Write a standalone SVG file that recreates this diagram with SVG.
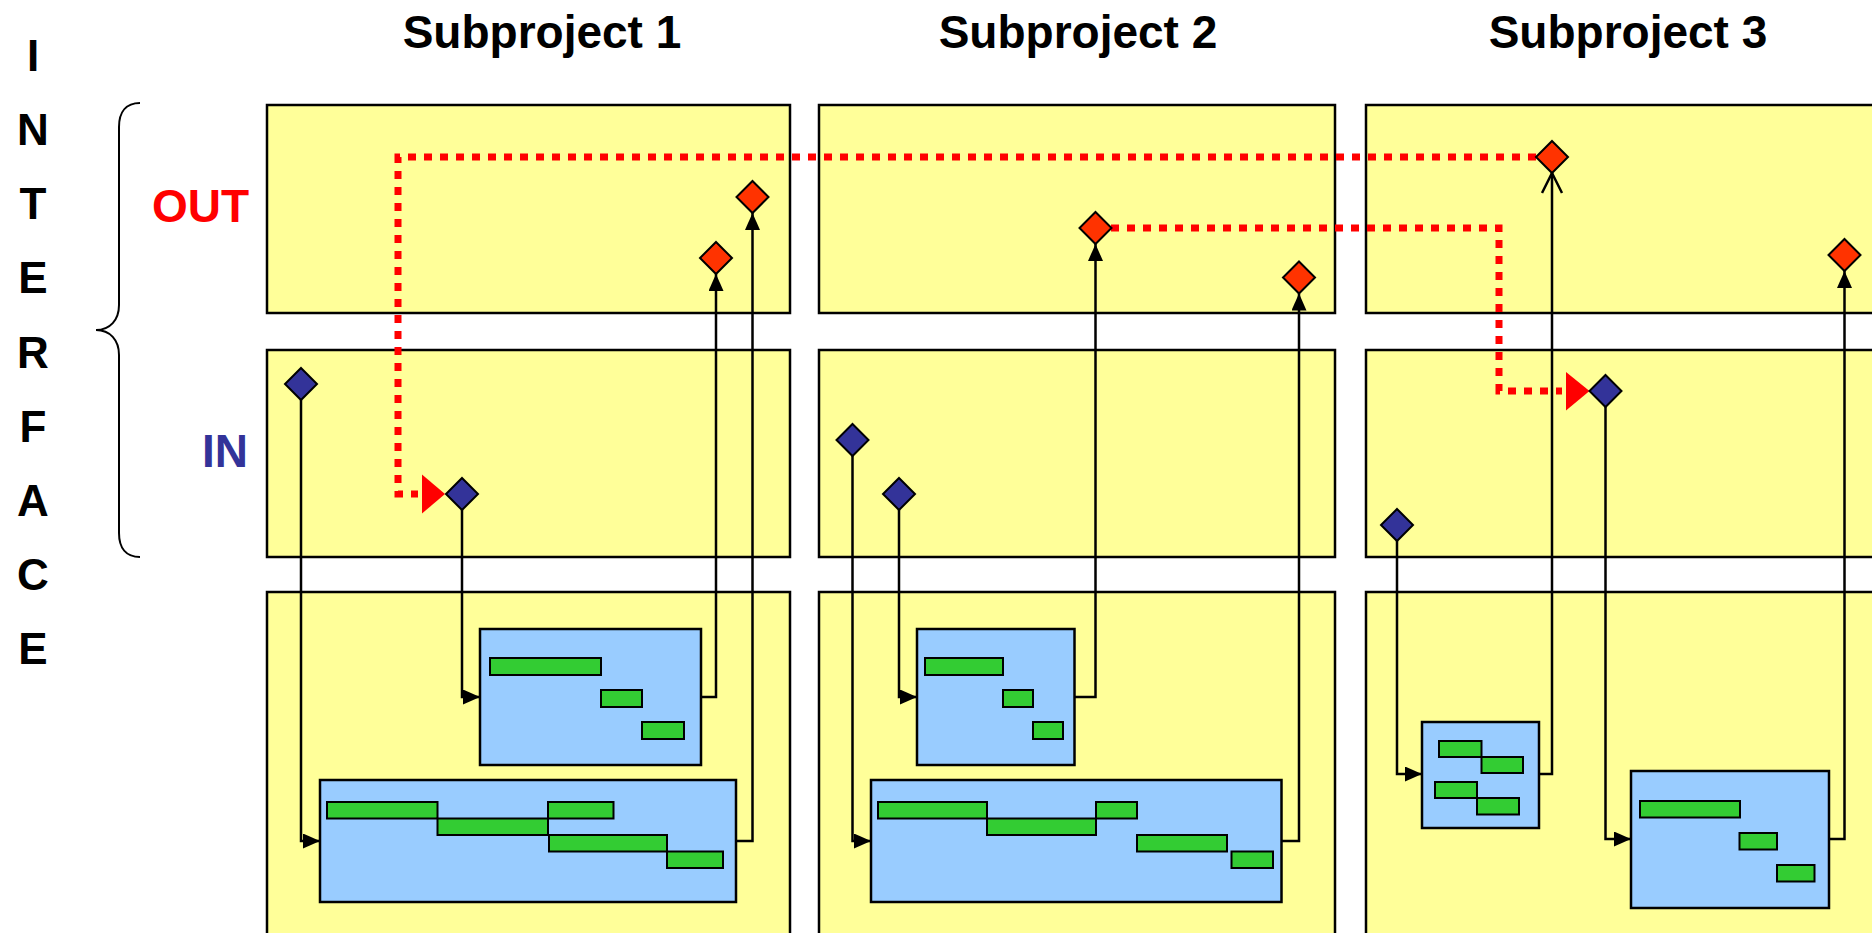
<svg xmlns="http://www.w3.org/2000/svg" width="1872" height="933" viewBox="0 0 1872 933">
<style>
.panel{fill:#FFFF99;stroke:#000;stroke-width:2.5}
.box{fill:#99CCFF;stroke:#000;stroke-width:2.5}
.bar{fill:#33CC33;stroke:#000;stroke-width:2}
.dout{fill:#FF3300;stroke:#000;stroke-width:2}
.din{fill:#333399;stroke:#000;stroke-width:2}
.conn{fill:none;stroke:#000;stroke-width:2.5}
.dot{fill:none;stroke:#FF0000;stroke-width:7;stroke-dasharray:8 8}
.tri{fill:#FF0000}
.lbl{font-family:"Liberation Sans",Arial,sans-serif;font-weight:bold;font-size:46px}
.title{text-anchor:middle;fill:#000}
.vert{text-anchor:middle;fill:#000;font-size:44px}
</style>
<defs>
<marker id="fa" markerUnits="userSpaceOnUse" markerWidth="18" markerHeight="16" refX="17" refY="7.5" orient="auto" viewBox="0 0 18 16">
<path d="M0,0 L17,7.5 L0,15 z" fill="#000"/>
</marker>
<marker id="oa" markerUnits="userSpaceOnUse" markerWidth="24" markerHeight="24" refX="21" refY="11" orient="auto" viewBox="0 0 24 24">
<path d="M1,1 L21,11 L1,21" fill="none" stroke="#000" stroke-width="2.5"/>
</marker>
<path id="dia" d="M0,-16 L16,0 L0,16 L-16,0 z"/>
</defs>
<rect width="1872" height="933" fill="#fff"/>

<g id="labels">
<text class="lbl title" x="542" y="48">Subproject 1</text>
<text class="lbl title" x="1078" y="48">Subproject 2</text>
<text class="lbl title" x="1628" y="48">Subproject 3</text>
<text class="lbl" x="249" y="222" text-anchor="end" fill="#FF0000">OUT</text>
<text class="lbl" x="248" y="467" text-anchor="end" fill="#333399">IN</text>
<text class="lbl vert" x="33" y="71">I</text>
<text class="lbl vert" x="33" y="145">N</text>
<text class="lbl vert" x="33" y="219">T</text>
<text class="lbl vert" x="33" y="293">E</text>
<text class="lbl vert" x="33" y="368">R</text>
<text class="lbl vert" x="33" y="442">F</text>
<text class="lbl vert" x="33" y="516">A</text>
<text class="lbl vert" x="33" y="590">C</text>
<text class="lbl vert" x="33" y="664">E</text>
<path id="brace" d="M140,103 C126,103 119,112 119,127 L119,305 C119,320 110,330 96,330 C110,330 119,340 119,355 L119,533 C119,548 126,557 140,557" fill="none" stroke="#000" stroke-width="2"/>
</g>

<g id="panels">
<rect id="p1-out" class="panel" x="267" y="105" width="523" height="208"/>
<rect id="p1-in" class="panel" x="267" y="350" width="523" height="207"/>
<rect id="p1-work" class="panel" x="267" y="592" width="523" height="350"/>
<rect id="p2-out" class="panel" x="819" y="105" width="516" height="208"/>
<rect id="p2-in" class="panel" x="819" y="350" width="516" height="207"/>
<rect id="p2-work" class="panel" x="819" y="592" width="516" height="350"/>
<rect id="p3-out" class="panel" x="1366" y="105" width="520" height="208"/>
<rect id="p3-in" class="panel" x="1366" y="350" width="520" height="207"/>
<rect id="p3-work" class="panel" x="1366" y="592" width="520" height="350"/>
</g>

<g id="box1a">
<rect class="box" x="480" y="629" width="221" height="136"/>
<rect class="bar" x="490" y="658" width="111" height="17"/>
<rect class="bar" x="601" y="690" width="41" height="17"/>
<rect class="bar" x="642" y="722" width="42" height="17"/>
</g>
<g id="box1b">
<rect class="box" x="320" y="780" width="416" height="122"/>
<rect class="bar" x="327" y="802" width="110.5" height="16.5"/>
<rect class="bar" x="437.5" y="818.5" width="110.5" height="16.5"/>
<rect class="bar" x="548" y="802" width="65.5" height="16.5"/>
<rect class="bar" x="549" y="835" width="118" height="16.5"/>
<rect class="bar" x="667" y="851.5" width="56" height="16.5"/>
</g>
<g id="box2a">
<rect class="box" x="917" y="629" width="157.5" height="136"/>
<rect class="bar" x="925" y="658" width="78" height="17"/>
<rect class="bar" x="1003" y="690" width="30" height="17"/>
<rect class="bar" x="1033" y="722" width="30" height="17"/>
</g>
<g id="box2b">
<rect class="box" x="871" y="780" width="410.5" height="122"/>
<rect class="bar" x="878" y="802" width="109" height="16.5"/>
<rect class="bar" x="987" y="818.5" width="109" height="16.5"/>
<rect class="bar" x="1096" y="802" width="41" height="16.5"/>
<rect class="bar" x="1137" y="835" width="90" height="16.5"/>
<rect class="bar" x="1231.5" y="851.5" width="41.5" height="16.5"/>
</g>
<g id="box3a">
<rect class="box" x="1422" y="722" width="117" height="106"/>
<rect class="bar" x="1439" y="741" width="42.5" height="16"/>
<rect class="bar" x="1481.5" y="757" width="41.5" height="16"/>
<rect class="bar" x="1435" y="782" width="42" height="16"/>
<rect class="bar" x="1477" y="798" width="42" height="16.5"/>
</g>
<g id="box3b">
<rect class="box" x="1631" y="771" width="198" height="137"/>
<rect class="bar" x="1640" y="801" width="100" height="16.5"/>
<rect class="bar" x="1739.5" y="833" width="37.5" height="16.5"/>
<rect class="bar" x="1777" y="865" width="37.5" height="16.5"/>
</g>

<g id="connectors">
<path class="conn" d="M301,400 V841 H320" marker-end="url(#fa)"/>
<path class="conn" d="M462,510 V697 H480" marker-end="url(#fa)"/>
<path class="conn" d="M701,697 H716 V274" marker-end="url(#fa)"/>
<path class="conn" d="M736,841 H752.5 V213" marker-end="url(#fa)"/>
<path class="conn" d="M852.5,456 V841 H871" marker-end="url(#fa)"/>
<path class="conn" d="M899,510 V697 H917" marker-end="url(#fa)"/>
<path class="conn" d="M1074.5,697 H1095.5 V244" marker-end="url(#fa)"/>
<path class="conn" d="M1281.5,841 H1299 V293.5" marker-end="url(#fa)"/>
<path class="conn" d="M1397,541 V774 H1422" marker-end="url(#fa)"/>
<path class="conn" d="M1605.5,407 V839 H1631" marker-end="url(#fa)"/>
<path class="conn" d="M1539,774 H1552 V173" marker-end="url(#oa)"/>
<path class="conn" d="M1829,839 H1844.5 V271" marker-end="url(#fa)"/>
<path class="dot" d="M1536,157 H398 V494 H418"/>
<polygon class="tri" points="422,474.5 445,494 422,513.5"/>
<path class="dot" d="M1111,228 H1499 V391 H1562"/>
<polygon class="tri" points="1566,372 1589.5,391 1566,410.5"/>
</g>

<g id="out1a"><use href="#dia" class="dout" x="752.5" y="197"/></g>
<g id="out1b"><use href="#dia" class="dout" x="716" y="258"/></g>
<g id="out2a"><use href="#dia" class="dout" x="1095.5" y="228"/></g>
<g id="out2b"><use href="#dia" class="dout" x="1299" y="277.5"/></g>
<g id="out3a"><use href="#dia" class="dout" x="1552" y="157"/></g>
<g id="out3b"><use href="#dia" class="dout" x="1844.5" y="255"/></g>
<g id="in1a"><use href="#dia" class="din" x="301" y="384"/></g>
<g id="in1b"><use href="#dia" class="din" x="462" y="494"/></g>
<g id="in2a"><use href="#dia" class="din" x="852.5" y="440"/></g>
<g id="in2b"><use href="#dia" class="din" x="899" y="494"/></g>
<g id="in3a"><use href="#dia" class="din" x="1397" y="525"/></g>
<g id="in3b"><use href="#dia" class="din" x="1605.5" y="391"/></g>
</svg>
